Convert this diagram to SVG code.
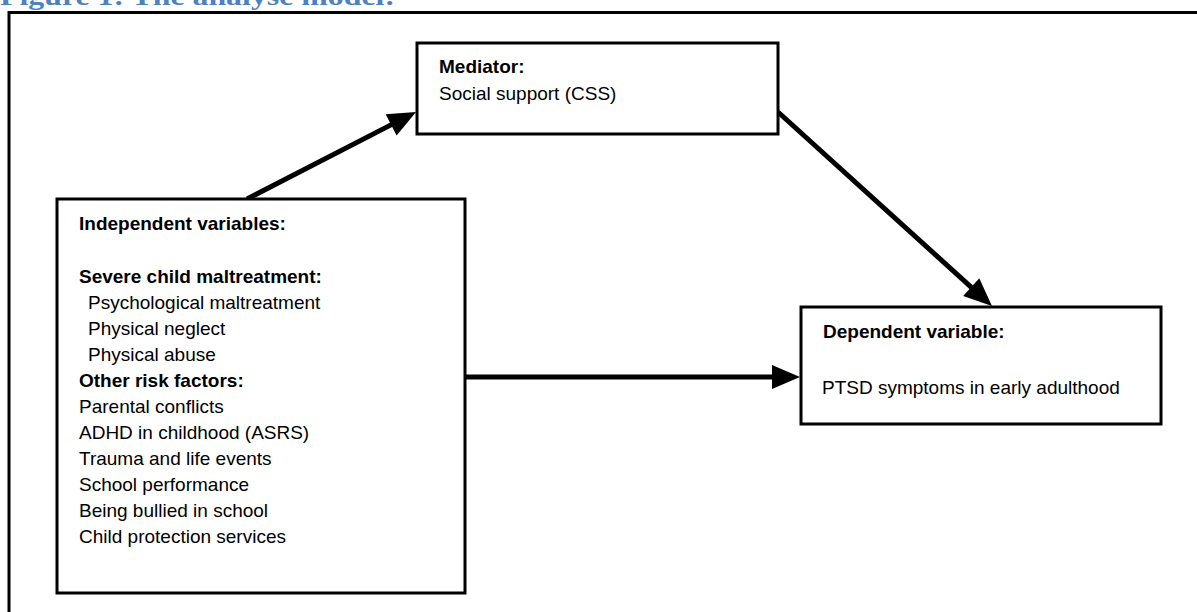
<svg xmlns="http://www.w3.org/2000/svg" width="1197" height="612" viewBox="0 0 1197 612">
  <defs>
    <style>
      .box { fill: #ffffff; stroke: #000000; stroke-width: 3; }
      .t { font-family: "Liberation Sans", Arial, sans-serif; font-size: 19px; fill: #000000; }
      .b { font-weight: bold; }
      .conn { stroke: #000000; stroke-width: 5; fill: none; marker-end: url(#ah); }
      .title { font-family: "Liberation Serif", Cambria, serif; font-weight: bold; font-size: 26px; fill: #4F81BD; }
    </style>
    <marker id="ah" markerUnits="userSpaceOnUse" markerWidth="30" markerHeight="26" refX="14" refY="12" orient="auto" overflow="visible">
      <path d="M0,0 L28,12 L0,24 z" fill="#000000"/>
    </marker>
  </defs>
  <rect width="1197" height="612" fill="#ffffff"/>
  <text class="title" x="0" y="5" textLength="395" lengthAdjust="spacingAndGlyphs">Figure 1: The analyse model:</text>
  <rect id="frame" x="9" y="12.5" width="1200" height="620" fill="none" stroke="#000000" stroke-width="3"/>

  <g id="connectors">
    <line class="conn" x1="247" y1="199" x2="403.6" y2="118.4"/>
    <line class="conn" x1="778" y1="112" x2="981.6" y2="296.6"/>
    <line class="conn" x1="466" y1="377" x2="786" y2="377"/>
  </g>

  <g id="mediator">
    <rect class="box" x="417" y="43" width="361" height="91"/>
    <text class="t b" x="439" y="73">Mediator:</text>
    <text class="t" x="439" y="100">Social support (CSS)</text>
  </g>

  <g id="independent">
    <rect class="box" x="57" y="199" width="408" height="394"/>
    <text class="t b" x="79" y="230">Independent variables:</text>
    <text class="t b" x="79" y="283">Severe child maltreatment:</text>
    <text class="t" x="88" y="309">Psychological maltreatment</text>
    <text class="t" x="88" y="335">Physical neglect</text>
    <text class="t" x="88" y="361">Physical abuse</text>
    <text class="t b" x="79" y="387">Other risk factors:</text>
    <text class="t" x="79" y="413">Parental conflicts</text>
    <text class="t" x="79" y="439">ADHD in childhood (ASRS)</text>
    <text class="t" x="79" y="465">Trauma and life events</text>
    <text class="t" x="79" y="491">School performance</text>
    <text class="t" x="79" y="517">Being bullied in school</text>
    <text class="t" x="79" y="543">Child protection services</text>
  </g>

  <g id="dependent">
    <rect class="box" x="801" y="307" width="360" height="117"/>
    <text class="t b" x="823" y="338">Dependent variable:</text>
    <text class="t" x="822" y="394">PTSD symptoms in early adulthood</text>
  </g>
</svg>
